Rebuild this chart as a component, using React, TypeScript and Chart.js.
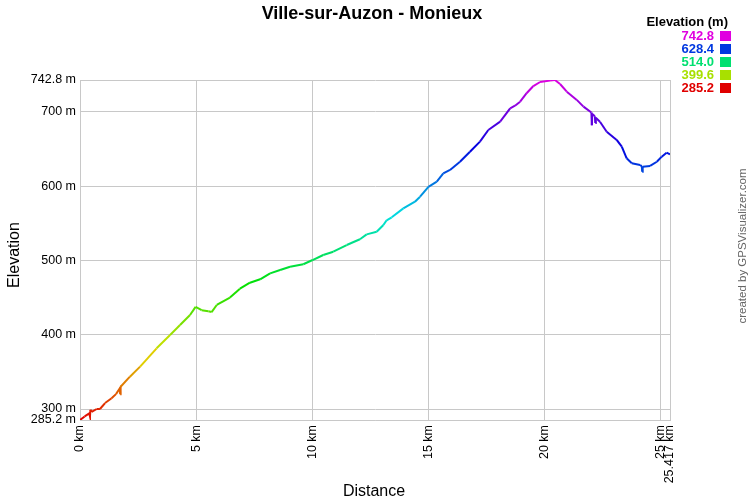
import React, { useEffect, useRef } from "react";
import { Chart, registerables } from "chart.js";

Chart.register(...registerables);

const chartTitle = "Ville-sur-Auzon - Monieux";
const legendTitle = "Elevation (m)";
const xAxisTitle = "Distance";
const yAxisTitle = "Elevation";
const creditText = "created by GPSVisualizer.com";

const distanceKm = [
  0.0, 0.2, 0.4, 0.43, 0.45, 0.5, 0.72, 0.86, 1.08, 1.36, 1.55, 1.72, 1.73, 1.75,
  2.15, 2.59, 3.3, 3.88, 4.31, 4.74, 4.98, 5.24, 5.53, 5.67, 5.89, 6.46, 6.89,
  7.32, 7.76, 8.19, 8.62, 9.05, 9.62, 10.02, 10.48, 10.91, 11.49, 12.06, 12.35,
  12.78, 13.07, 13.21, 13.43, 13.93, 14.43, 14.65, 15.01, 15.37, 15.65, 15.94,
  16.37, 16.8, 17.23, 17.59, 18.1, 18.53, 18.74, 18.96, 19.24, 19.53, 19.82,
  20.25, 20.46, 20.68, 20.97, 21.4, 21.69, 22.03, 22.05, 22.07, 22.18, 22.2,
  22.22, 22.4, 22.69, 23.12, 23.34, 23.55, 23.77, 24.13, 24.2, 24.22, 24.24,
  24.56, 24.85, 25.06, 25.27, 25.417,
];

const elevationM = [
  285.2, 290, 294, 290, 299, 296, 300, 300, 308, 314.4, 320, 328, 320, 330,
  343.5, 357, 381.7, 399.6, 413, 426.5, 437.5, 433, 431.5, 430.5, 440, 450, 462,
  470, 474.6, 482.6, 487, 491.5, 494.8, 500.5, 507.3, 511.7, 520.7, 528.5, 535,
  538.6, 547.6, 554, 558, 570, 579, 585.7, 599, 606, 617, 621.7,
  632.8, 646.3, 659.8, 675.5, 686.7, 704.7, 708.2, 713.6, 725, 734.7, 740.1,
  742, 742.8, 737.4, 727.1, 716, 707, 699, 682, 697, 694, 685,
  692, 686.7, 673.2, 662.1, 653, 637.4, 630.7, 628.4, 627, 619.4, 626,
  627.1, 632.8, 639.6, 645, 642.8,
];

const xTickValues = [0, 5, 10, 15, 20, 25, 25.417];
const yTickValues = [285.2, 300, 400, 500, 600, 700, 742.8];
const legendValues = ["742.8", "628.4", "514.0", "399.6", "285.2"];

const ELEV_MIN = 285.2;
const ELEV_MAX = 742.8;
const KM_MAX = 25.417;

function elevColor(e: number): string {
  let t = (e - ELEV_MIN) / (ELEV_MAX - ELEV_MIN);
  t = Math.max(0, Math.min(1, t));
  const h = 300 * t;
  return `hsl(${h.toFixed(1)}, 100%, 44%)`;
}

const FONT = '"Liberation Sans", Arial, Helvetica, sans-serif';

const decorPlugin = {
  id: "decor",
  afterDraw(chart: any) {
    const ctx = chart.ctx as CanvasRenderingContext2D;
    ctx.save();
    // Title
    ctx.fillStyle = "#000";
    ctx.font = `bold 18px ${FONT}`;
    ctx.textAlign = "center";
    ctx.textBaseline = "middle";
    ctx.fillText(chartTitle, 372, 14);

    // Legend
    ctx.font = `bold 13px ${FONT}`;
    ctx.textAlign = "right";
    ctx.fillText(legendTitle, 728, 22);
    legendValues.forEach((v, i) => {
      const cy = 36 + i * 13;
      const col = elevColor(parseFloat(v));
      ctx.fillStyle = col;
      ctx.fillText(v, 714, cy + 0.5);
      ctx.fillRect(720, cy - 5, 11, 10);
    });

    // Axis titles
    ctx.fillStyle = "#000";
    ctx.font = `16px ${FONT}`;
    ctx.textAlign = "center";
    ctx.fillText(xAxisTitle, 374, 492);
    ctx.save();
    ctx.translate(15, 255);
    ctx.rotate(-Math.PI / 2);
    ctx.fillText(yAxisTitle, 0, 0);
    ctx.restore();

    // Credit
    ctx.save();
    ctx.fillStyle = "#666";
    ctx.font = `11.5px ${FONT}`;
    ctx.translate(743, 246);
    ctx.rotate(-Math.PI / 2);
    ctx.fillText(creditText, 0, 0);
    ctx.restore();

    ctx.restore();
  },
};

export default function App() {
  const canvasRef = useRef<HTMLCanvasElement | null>(null);

  useEffect(() => {
    const canvas = canvasRef.current;
    if (!canvas) return;
    const points = distanceKm.map((x, i) => ({ x, y: elevationM[i] }));
    const chart = new Chart(canvas, {
      type: "line",
      data: {
        datasets: [
          {
            data: points,
            borderWidth: 2,
            pointRadius: 0,
            tension: 0,
            borderColor: elevColor(514),
            segment: {
              borderColor: (c: any) =>
                elevColor((c.p0.parsed.y + c.p1.parsed.y) / 2),
            },
          },
        ],
      },
      options: {
        responsive: false,
        animation: false,
        devicePixelRatio: 1,
        layout: { padding: { top: 80, right: 80, left: 0, bottom: 0 } },
        plugins: {
          legend: { display: false },
          title: { display: false },
          tooltip: { enabled: false },
        },
        scales: {
          x: {
            type: "linear",
            min: 0,
            max: KM_MAX,
            afterBuildTicks: (scale: any) => {
              scale.ticks = xTickValues.map((v) => ({ value: v }));
            },
            afterFit: (scale: any) => {
              scale.height = 80;
            },
            ticks: {
              autoSkip: false,
              minRotation: 90,
              maxRotation: 90,
              padding: 5,
              color: "#000",
              font: { family: FONT, size: 12.5 },
              callback: (v: any) => `${v} km`,
            },
            grid: { color: "#c8c8c8", drawTicks: false, lineWidth: 1 },
            border: { color: "#c8c8c8" },
          },
          y: {
            type: "linear",
            min: ELEV_MIN,
            max: ELEV_MAX,
            afterBuildTicks: (scale: any) => {
              scale.ticks = yTickValues.map((v) => ({ value: v }));
            },
            afterFit: (scale: any) => {
              scale.width = 80;
            },
            ticks: {
              autoSkip: false,
              padding: 4,
              color: "#000",
              font: { family: FONT, size: 12.5 },
              callback: (v: any) => `${v} m`,
            },
            grid: { color: "#c8c8c8", drawTicks: false, lineWidth: 1 },
            border: { color: "#c8c8c8" },
          },
        },
      },
      plugins: [decorPlugin],
    } as any);
    return () => chart.destroy();
  }, []);

  return (
    <div style={{ position: "absolute", left: 0, top: 0, width: 750, height: 500, background: "#fff" }}>
      <canvas ref={canvasRef} width={750} height={500} style={{ display: "block", width: 750, height: 500 }} />
    </div>
  );
}
